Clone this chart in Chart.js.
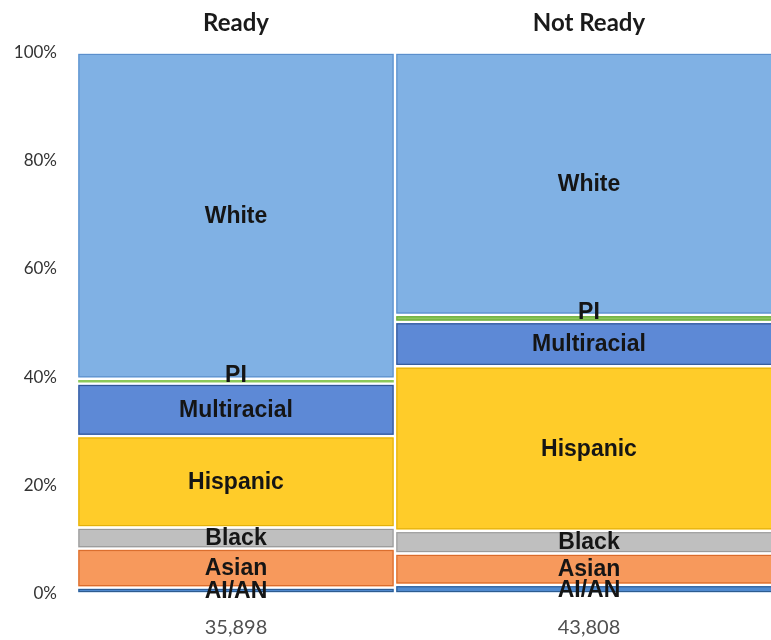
<!DOCTYPE html>
<html>
<head>
<meta charset="utf-8">
<script src="https://cdn.jsdelivr.net/npm/chart.js@4/dist/chart.umd.min.js"></script>
<style>
  html, body { margin: 0; padding: 0; background: #fff; overflow: hidden; }
  #wrap { position: absolute; left: 0; top: 0; width: 783px; height: 640px; }
</style>
</head>
<body>
<div id="wrap"><canvas id="mekkoChart"></canvas></div>
<script>
// columns and their sizes (column width is proportional to the count)
const groups = ["Ready", "Not Ready"];
const counts = [35898, 43808];

// segments, bottom to top
const races = ["AI/AN", "Asian", "Black", "Hispanic", "Multiracial", "PI", "White"];
const readyPct = [1.1, 7.2, 3.9, 16.9, 9.7, 0.9, 60.3];
const notReadyPct = [1.6, 5.8, 4.2, 30.4, 8.2, 1.3, 48.5];

const yTicks = [0, 20, 40, 60, 80, 100];

const fillColors = ["#4f8ad0", "#f7995c", "#bfbfbf", "#ffcc29", "#5d89d6", "#8cc85a", "#80b1e4"];
const edgeColors = ["#2e5c8f", "#d86a2a", "#9a9a9a", "#e2b00c", "#2f528f", "#6aa83a", "#5b8fcc"];
const liftedLabels = ["PI"];

document.addEventListener("DOMContentLoaded", function () {
  const total = counts.reduce((a, b) => a + b, 0);
  // x position of each column centre, in the same units as the counts
  const centers = counts.map((c, i) => counts.slice(0, i).reduce((a, b) => a + b, 0) + c / 2);
  const pctByGroup = [readyPct, notReadyPct];

  const datasets = [];
  groups.forEach(function (g, col) {
    races.forEach(function (race, r) {
      datasets.push({
        label: race,
        col: col,
        data: [{ x: centers[col], y: pctByGroup[col][r] }],
        backgroundColor: fillColors[r],
        edgeColor: edgeColors[r],
        borderColor: "#ffffff",
        borderWidth: 1.5,
        borderSkipped: false,
        grouped: false,
        barThickness: function (ctx) {
          const sx = ctx.chart.scales.x;
          return sx.getPixelForValue(counts[ctx.dataset.col]) - sx.getPixelForValue(0);
        },
      });
    });
  });

  // darker outline inside the white gap + segment names
  const segmentLabels = {
    id: "segmentLabels",
    afterDatasetsDraw(chart) {
      const ctx = chart.ctx;
      ctx.save();
      chart.data.datasets.forEach(function (ds, i) {
        const el = chart.getDatasetMeta(i).data[0];
        const p = el.getProps(["x", "y", "base", "width"], true);
        const inset = ds.borderWidth;
        const left = p.x - p.width / 2 + inset;
        const right = p.x + p.width / 2 - inset;
        const top = Math.min(p.y, p.base) + inset;
        const bottom = Math.max(p.y, p.base) - inset;
        if (bottom - top > 2) {
          ctx.strokeStyle = ds.edgeColor;
          ctx.lineWidth = 1;
          ctx.strokeRect(left + 0.5, top + 0.5, right - left - 1, bottom - top - 1);
        }
      });
      ctx.fillStyle = "#151515";
      ctx.font = 'bold 23px "Liberation Sans", Arial, sans-serif';
      ctx.textAlign = "center";
      chart.data.datasets.forEach(function (ds, i) {
        const el = chart.getDatasetMeta(i).data[0];
        const p = el.getProps(["x", "y", "base"], true);
        const cy = (p.y + p.base) / 2;
        if (liftedLabels.includes(ds.label)) {
          ctx.textBaseline = "alphabetic";
          ctx.fillText(ds.label, p.x, cy + 1);
        } else {
          ctx.textBaseline = "middle";
          ctx.fillText(ds.label, p.x, cy + 1);
        }
      });
      ctx.restore();
    },
  };

  const ctx = document.getElementById("mekkoChart").getContext("2d");
  new Chart(ctx, {
    type: "bar",
    data: { datasets: datasets },
    options: {
      responsive: true,
      maintainAspectRatio: false,
      animation: false,
      layout: { padding: 0 },
      plugins: {
        legend: { display: false },
        tooltip: { enabled: false },
      },
      scales: {
        x: {
          type: "linear",
          min: 0,
          max: total,
          offset: false,
          grid: { display: false, drawTicks: false },
          border: { display: false },
          afterBuildTicks: function (axis) {
            axis.ticks = centers.map((v) => ({ value: v }));
          },
          afterFit: function (axis) {
            axis.height = 46.5;
          },
          ticks: {
            autoSkip: false,
            maxRotation: 0,
            padding: 22,
            color: "#505050",
            font: { family: "Lato", size: 20 },
            callback: (v, i) => counts[i].toLocaleString("en-US"),
          },
        },
        top: {
          axis: "x",
          type: "linear",
          position: "top",
          min: 0,
          max: total,
          offset: false,
          grid: { display: false, drawTicks: false },
          border: { display: false },
          afterBuildTicks: function (axis) {
            axis.ticks = centers.map((v) => ({ value: v }));
          },
          afterFit: function (axis) {
            axis.height = 52.5;
          },
          ticks: {
            autoSkip: false,
            maxRotation: 0,
            padding: 15,
            color: "#1a1a1a",
            font: { family: "Lato", size: 24, weight: "bold" },
            callback: (v, i) => groups[i],
          },
        },
        y: {
          stacked: true,
          min: 0,
          max: 100,
          grid: { display: false, drawTicks: false },
          border: { display: false },
          afterBuildTicks: function (axis) {
            axis.ticks = yTicks.map((v) => ({ value: v }));
          },
          afterFit: function (axis) {
            axis.width = 77;
          },
          ticks: {
            padding: 20,
            color: "#333333",
            font: { family: "Lato", size: 17 },
            callback: (v) => v + "%",
          },
        },
      },
    },
    plugins: [segmentLabels],
  });
});
</script>
</body>
</html>
